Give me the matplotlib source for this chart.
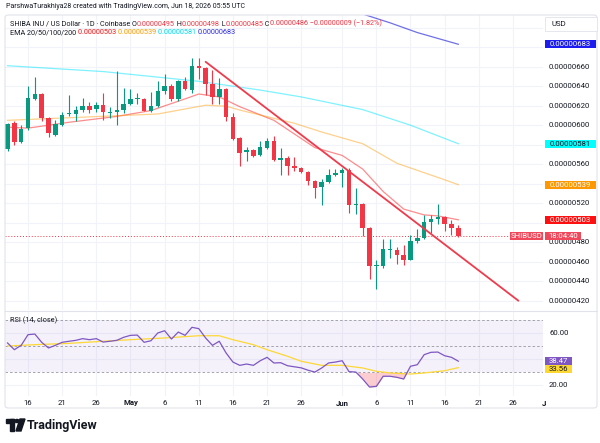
import numpy as np
import pandas as pd
import matplotlib
matplotlib.use("Agg")
import matplotlib.pyplot as plt
from matplotlib import transforms
from matplotlib.patches import Rectangle, Polygon, Circle, FancyBboxPatch
from matplotlib.transforms import Bbox, TransformedBbox

plt.rcParams['font.family'] = ['Roboto', 'DejaVu Sans']

# ---- data (prices in units of 1e-8 USD) ----
start = pd.Timestamp('2026-04-13')
dates = pd.date_range(start, '2026-06-18')

opens = [576, 602, 583, 597, 627, 632, 607, 590, 600, 611, 611, 616, 620, 617, 621, 613, 614,
         616, 622, 627, 627, 615, 620, 635, 640, 627, 645, 636, 661, 659, 642, 629, 637, 608,
         587, 573, 575, 569, 577, 584, 564, 566, 558, 556, 552, 543, 537, 542, 549, 551, 554,
         518, 519, 495, 456, 456, 472, 472, 467, 462, 481, 484, 501, 504, 506, 499, 495]
highs = [602, 604, 600, 640, 649, 633, 608, 605, 614, 631, 620, 628, 624, 624, 633, 619, 656,
         638, 637, 633, 628, 634, 645, 653, 642, 646, 649, 669, 669, 660, 657, 648, 638, 612,
         588, 578, 576, 584, 587, 589, 577, 568, 567, 557, 553, 544, 545, 555, 555, 556, 556,
         536, 520, 496, 462, 483, 483, 475, 477, 487, 494, 508, 508, 519, 507, 503, 498]
lows = [574, 580, 582, 595, 626, 604, 588, 589, 599, 609, 604, 614, 612, 614, 605, 607, 600,
        613, 621, 622, 615, 614, 619, 632, 625, 625, 636, 633, 647, 631, 622, 622, 604, 585,
        558, 563, 567, 568, 576, 563, 549, 549, 553, 551, 539, 525, 518, 541, 548, 537, 510,
        509, 486, 442, 432, 454, 464, 458, 457, 462, 479, 483, 489, 499, 492, 487, 485]
closes = [601, 583, 596, 628, 632, 607, 592, 601, 610, 612, 616, 620, 616, 621, 614, 614, 616,
          622, 627, 628, 615, 620, 635, 640, 627, 645, 637, 661, 659, 642, 629, 637, 608, 586,
          572, 575, 568, 578, 584, 564, 566, 558, 556, 552, 543, 536, 542, 549, 551, 554, 518,
          519, 495, 456, 457, 473, 473, 467, 462, 481, 484, 501, 504, 506, 499, 495, 486]

# EMA lines (day offset from first candle, value)
ema20_days = [0, 3, 9, 16, 21, 26, 28, 31, 34, 39, 45, 49, 52, 55, 58, 61, 63, 66]
ema20 = [598, 597, 603, 609, 615, 627, 632, 629, 619, 605, 577, 569, 555, 532, 514, 508, 507, 503]
ema50_days = [0, 17, 22, 29, 32, 34, 42, 46, 52, 57, 64, 66]
ema50 = [605, 610, 611.5, 620.5, 619.5, 615.5, 602, 593, 581, 561, 544, 539]
ema100_days = [0, 14, 28, 37, 43, 52, 59, 66]
ema100 = [661, 655, 645, 636, 629, 616, 600, 581]
ema200_days = [48, 52, 56, 60, 64, 66]
ema200 = [722, 714, 705, 695, 687, 683]

# trend line drawn by the author
trend_days = [29, 74.8]
trend_vals = [665, 420]

rsi = [52.3, 47.2, 50.5, 58.6, 59.1, 52.8, 48.5, 50.5, 52.8, 53.6, 54.3, 55.6, 54.8, 55.6,
       53.0, 53.6, 54.3, 56.6, 58.1, 58.3, 52.8, 54.0, 59.9, 61.6, 55.3, 60.6, 58.1, 64.2,
       63.2, 56.1, 50.5, 53.6, 44.7, 37.8, 35.3, 36.3, 35.3, 38.8, 41.4, 37.1, 37.3, 35.0,
       34.2, 33.4, 31.6, 30.2, 33.3, 37.1, 37.8, 38.8, 30.5, 30.2, 24.9, 18.8, 19.3, 27.0,
       27.0, 26.2, 24.9, 34.6, 35.8, 43.4, 45.2, 45.4, 42.6, 41.4, 38.47]
rsi_ma_days = [0, 4, 9, 14, 18, 23, 28, 31, 33, 36, 38, 41, 43, 46, 49, 52, 54, 56, 59, 61, 64, 66]
rsi_ma = [50, 51, 52, 53.6, 54.8, 56.1, 57.8, 57.8, 54.8, 51, 47.2, 42.2, 38.4, 35.3, 35.3,
          33.3, 30.8, 29.5, 28.7, 29.5, 31.2, 33.56]

tick_dates = ['2026-04-16', '2026-04-21', '2026-04-26', '2026-05-01', '2026-05-06', '2026-05-11',
              '2026-05-16', '2026-05-21', '2026-05-26', '2026-06-01', '2026-06-06', '2026-06-11',
              '2026-06-16', '2026-06-21', '2026-06-26', '2026-07-01']
price_ticks = list(range(420, 701, 20))
rsi_ticks = [60, 20]

S = 1e-8
UP, DOWN = '#089981', '#f23645'
TXT = '#131722'
GRID = '#f0f3fa'
FS = 5.6
HFS = 5.05  # header font size

W, H = 600, 443
fig = plt.figure(figsize=(6, 4.43), dpi=100)
fig.patch.set_facecolor('white')


def fx(px):
    return px / W


def fy(py):
    return 1 - py / H


def afx(px):
    # pixel x -> axes fraction of the panes (which span 5..543 px)
    return (px - 5) / 538


ax = fig.add_axes([fx(5), fy(310), fx(543) - fx(5), fy(15) - fy(310)])
ax_rsi = fig.add_axes([fx(5), fy(396), fx(543) - fx(5), fy(311) - fy(396)])
for a in (ax, ax_rsi):
    a.set_xlim(-0.37, 78.4)
    a.set_xticks([])
    a.set_yticks([])
    for s in a.spines.values():
        s.set_visible(False)
ax.set_ylim(410.5 * S, 713 * S)
ax_rsi.set_ylim(12.0, 76.6)
ppu_main = 295 / ((713 - 410.5) * S)   # pixels per price unit
ppu_rsi = 85 / (76.6 - 12.0)

tick_idx = [(pd.Timestamp(d) - start).days for d in tick_dates]
for t in tick_idx:
    ax.axvline(t, color=GRID, lw=0.8, zorder=0)
    ax_rsi.axvline(t, color=GRID, lw=0.8, zorder=0)
for v in price_ticks:
    ax.axhline(v * S, color=GRID, lw=0.8, zorder=0)
for v in [20, 40, 60]:
    ax_rsi.axhline(v, color=GRID, lw=0.8, zorder=0)

# ---- candles ----
x = np.arange(len(dates))
o = np.array(opens) * S
h = np.array(highs) * S
l = np.array(lows) * S
c = np.array(closes) * S
cols = [UP if cc >= oo else DOWN for oo, cc in zip(o, c)]
ax.vlines(x, l, h, colors=cols, lw=0.8, zorder=3)
body = np.maximum(np.abs(c - o), 0.7 * S)
ax.bar(x, body, bottom=np.minimum(o, c), width=0.66, color=cols, zorder=4)

# ---- EMAs ----
ax.plot(ema20_days, np.array(ema20) * S, color='#ff0000', alpha=0.45, lw=0.9, zorder=2)
ax.plot(ema50_days, np.array(ema50) * S, color='#ff9800', alpha=0.45, lw=0.9, zorder=2)
ax.plot(ema100_days, np.array(ema100) * S, color='#00e5ff', alpha=0.5, lw=0.9, zorder=2)
ax.plot(ema200_days, np.array(ema200) * S, color='#2222dd', alpha=0.65, lw=0.9, zorder=2)

ax.plot(trend_days, np.array(trend_vals) * S, color='#ef3b4b', lw=1.3, zorder=5,
        solid_capstyle='round')
ax.axhline(closes[-1] * S, color=DOWN, lw=0.7, ls=(0, (1, 2)), zorder=1)


def badge(a, tr, px0, px1, yv, text, bg, tc, ppu, half=4.0):
    hh = half / ppu
    a.add_patch(Rectangle((afx(px0), yv - hh), afx(px1) - afx(px0), 2 * hh, transform=tr,
                          fc=bg, ec='none', clip_on=False, zorder=9))
    a.text((afx(px0) + afx(px1)) / 2, yv, text, transform=tr, ha='center', va='center',
           fontsize=FS, color=tc, clip_on=False, zorder=10)


# ---- price axis ----
blend = transforms.blended_transform_factory(ax.transAxes, ax.transData)
badges = [(ema200[-1], '#1c1cf0', 'white'), (ema100[-1], '#00ffff', TXT),
          (ema50[-1], '#ff9800', 'white'), (ema20[-1], '#ff1010', 'white')]
for v in price_ticks:
    if v > 690 or any(abs(v - b[0]) < 6 for b in badges):
        continue  # hidden behind a badge / the currency box
    ax.text(afx(549), v * S, f'{v * S:.8f}', transform=blend, va='center', ha='left',
            fontsize=FS, color=TXT, clip_on=False)
for v, bg, tc in badges:
    badge(ax, blend, 545, 596, v * S, f'{v * S:.8f}', bg, tc, ppu_main)

badge(ax, blend, 510, 543, closes[-1] * S, 'SHIBUSD', '#f0485a', 'white', ppu_main)
badge(ax, blend, 545, 581, closes[-1] * S, '18:04:40', '#f0485a', 'white', ppu_main)

# ---- RSI pane ----
ax_rsi.axhspan(30, 70, color='#7e57c2', alpha=0.08, lw=0, zorder=0)
for v in (70, 50, 30):
    ax_rsi.axhline(v, color='#9598a1', lw=0.6, ls=(0, (3, 2.5)), zorder=1)
rsi_a = np.array(rsi)
ax_rsi.fill_between(x, rsi_a, 30, where=rsi_a < 30, interpolate=True,
                    color='#f23645', alpha=0.25, lw=0, zorder=1)
ax_rsi.plot(rsi_ma_days, rsi_ma, color='#fdd835', lw=0.9, zorder=2)
ax_rsi.plot(x, rsi_a, color='#7e57c2', lw=0.9, zorder=3)

rblend = transforms.blended_transform_factory(ax_rsi.transAxes, ax_rsi.transData)
for v in rsi_ticks:
    ax_rsi.text(afx(549), v, f'{v:.2f}', transform=rblend, va='center', ha='left',
                fontsize=FS, color=TXT, clip_on=False)
badge(ax_rsi, rblend, 545, 572, rsi[-1], f'{rsi[-1]:.2f}', '#7e57c2', 'white', ppu_rsi, 3.8)
ma_y = min(rsi_ma[-1], rsi[-1] - 7.8 / ppu_rsi)   # stacked under the RSI badge
badge(ax_rsi, rblend, 545, 572, ma_y, f'{rsi_ma[-1]:.2f}', '#fdd835', TXT, ppu_rsi, 3.8)

# ---- date axis ----
xblend = transforms.blended_transform_factory(ax_rsi.transData, fig.transFigure)
clip = TransformedBbox(Bbox.from_extents(0, 0, fx(546), 1), fig.transFigure)
for t, d in zip(tick_idx, tick_dates):
    d = pd.Timestamp(d)
    lab = d.strftime('%b') if d.day == 1 else str(d.day)
    txt = ax_rsi.text(t, fy(403), lab, transform=xblend, ha='center', va='center',
                      fontsize=FS, color=TXT, fontweight='bold' if d.day == 1 else 'normal')
    txt.set_clip_box(clip)
    txt.set_clip_on(True)

# ---- frame, separators ----
fig.add_artist(FancyBboxPatch((fx(5), fy(408)), fx(592), fy(15) - fy(408),
                              boxstyle='round,pad=0,rounding_size=0.006',
                              transform=fig.transFigure, fc='none', ec='#e0e3eb', lw=0.8))
fig.add_artist(plt.Line2D([fx(5), fx(597)], [fy(311), fy(311)], color='#e0e3eb', lw=0.8))
fig.add_artist(Rectangle((fx(545), fy(31)), fx(52), fy(17) - fy(31), transform=fig.transFigure,
                         fc='white', ec='#e0e3eb', lw=0.6, zorder=5))
fig.text(fx(551), fy(24), 'USD', fontsize=FS, color=TXT, va='center', zorder=6)

# ---- header ----
fig.text(fx(6), fy(7), 'ParshwaTurakhiya28 created with TradingView.com, Jun 18, 2026 05:55 UTC',
         fontsize=HFS, color=TXT, va='center')


def colored(x_px, y_px, parts, size=HFS):
    t = fig.text(fx(x_px), fy(y_px), parts[0][0], color=parts[0][1], fontsize=size,
                 va='center', zorder=6)
    for s, col in parts[1:]:
        t = ax.annotate(s, xy=(1, 0), xycoords=t, va='bottom', ha='left', color=col,
                        fontsize=size, annotation_clip=False, zorder=6)


RED = '#f23645'
colored(10, 24, [('SHIBA INU / US Dollar · 1D · Coinbase O', TXT), ('0.00000495', RED),
                 (' H', TXT), ('0.00000498', RED), (' L', TXT), ('0.00000485', RED),
                 (' C', TXT), ('0.00000486 −0.00000009 (−1.82%)', RED)], size=5.2)
colored(10, 33, [('EMA 20/50/100/200 ', TXT), ('0.00000503 ', '#ff1010'),
                 ('0.00000539 ', '#ff9800'), ('0.00000581 ', '#00d8f0'),
                 ('0.00000683', '#2a2ae0')], size=5.2)
colored(10, 320, [('RSI (14, close) ', TXT), ('38.47 ', '#7e57c2'), ('33.56', '#f5c518')],
        size=5.3)

# ---- TradingView logo ----
logo = [Rectangle((fx(6), fy(423)), fx(8), fy(419) - fy(423)),
        Rectangle((fx(10), fy(431)), fx(4), fy(419) - fy(431)),
        Circle((fx(17), fy(421)), 0.0035),
        Polygon([(fx(20), fy(419)), (fx(25), fy(419)), (fx(21), fy(431)), (fx(16), fy(431))])]
for p in logo:
    p.set_transform(fig.transFigure)
    p.set_color(TXT)
    fig.add_artist(p)
fig.text(fx(27), fy(425), 'TradingView', fontsize=9, fontweight='bold', color=TXT, va='center')

fig.savefig('out.png', dpi=100, facecolor='white')
